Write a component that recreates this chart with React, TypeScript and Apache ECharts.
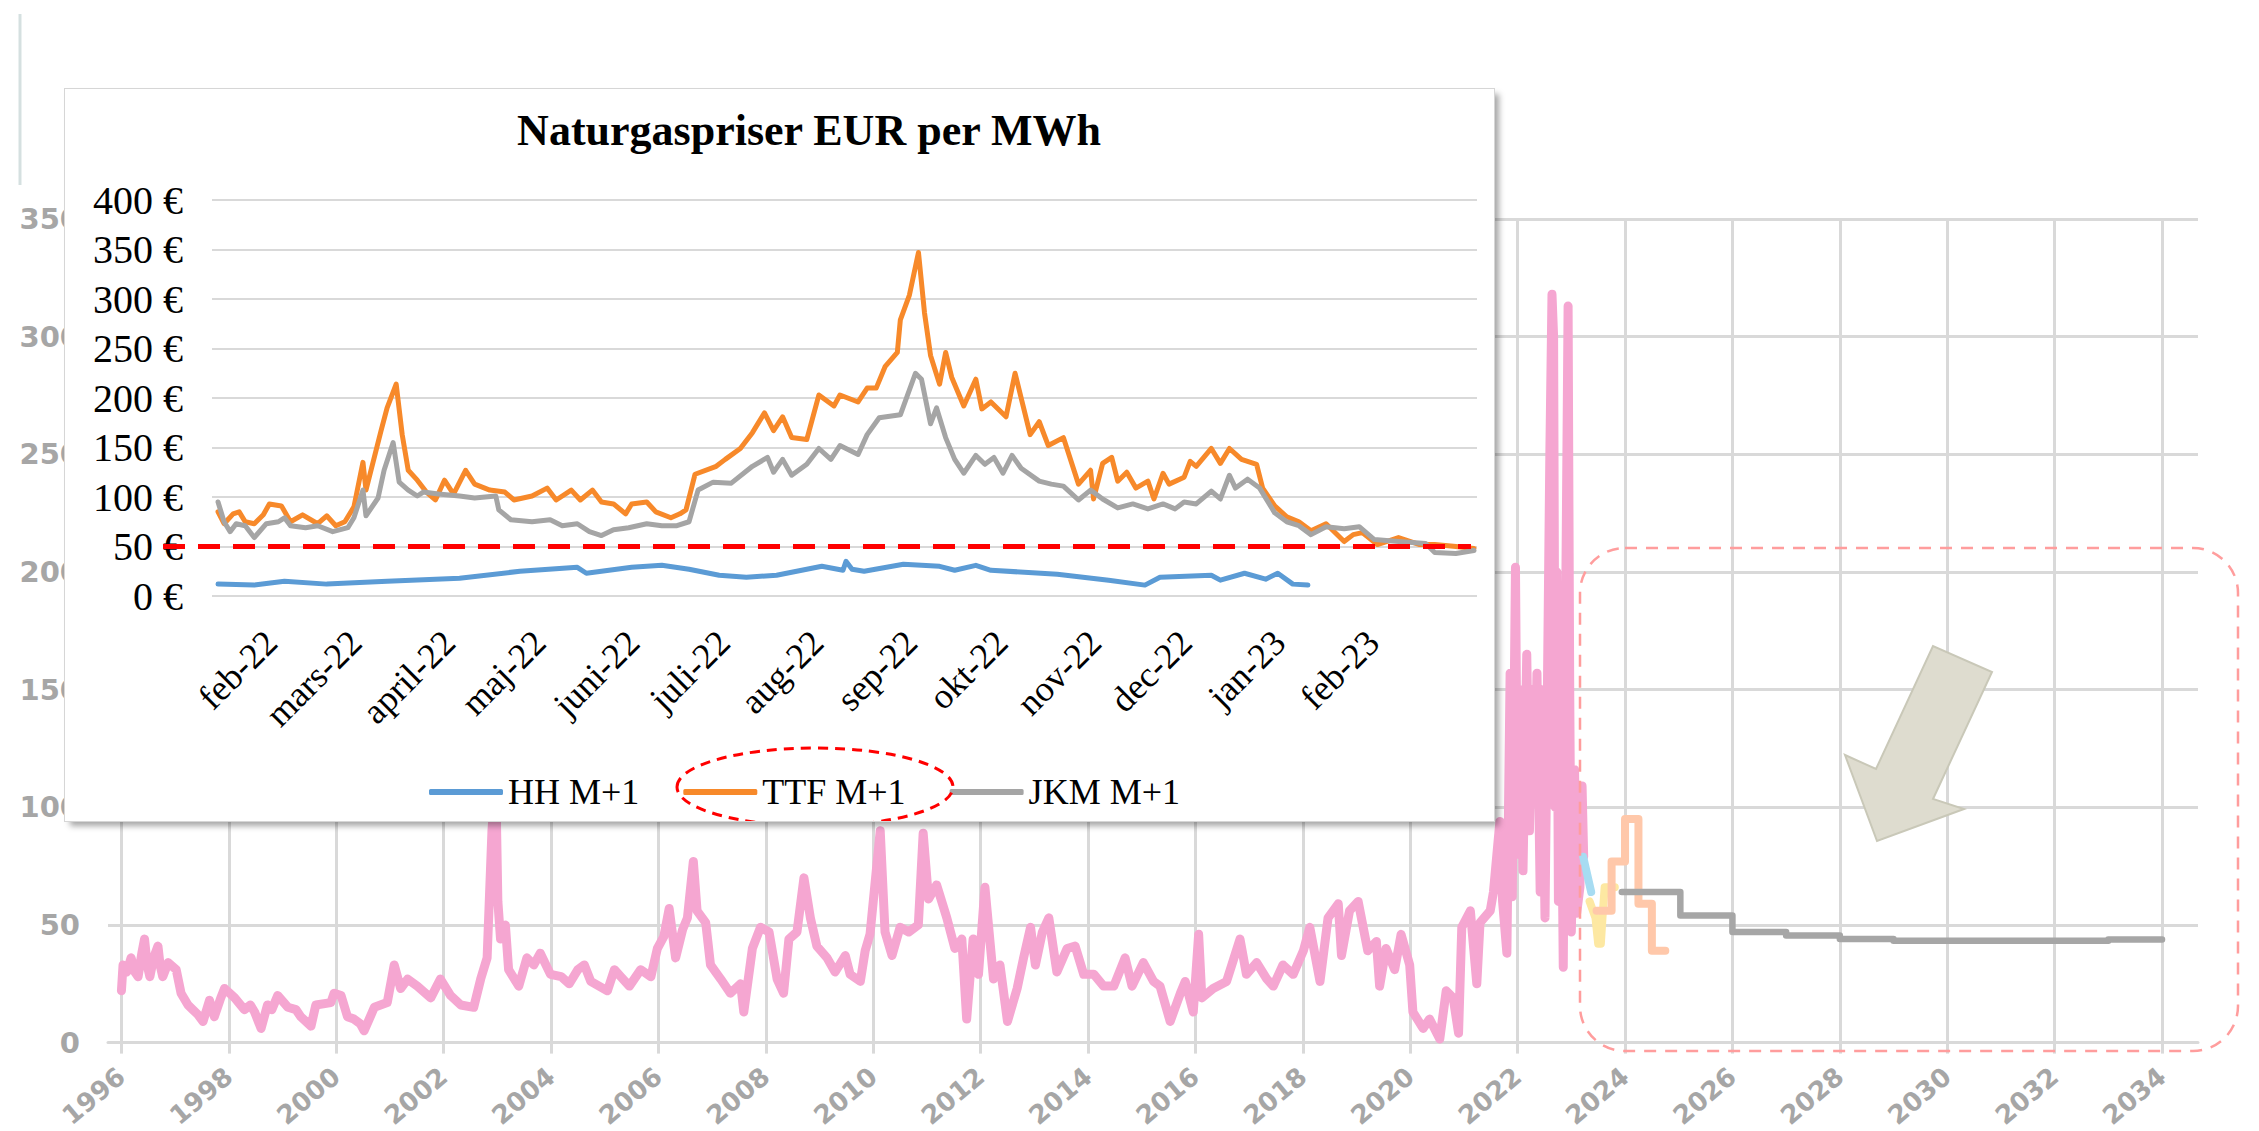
import React, { useEffect, useRef } from "react";
import * as echarts from "echarts";

// ---------- Background chart data (year, EUR/MWh) ----------
const yearTicks = [1996, 1998, 2000, 2002, 2004, 2006, 2008, 2010, 2012, 2014, 2016, 2018, 2020, 2022, 2024, 2026, 2028, 2030, 2032, 2034];

const spotHistory: [number, number][] = [
  [1996.0, 22], [1996.03, 33], [1996.1, 30], [1996.18, 36], [1996.25, 30], [1996.31, 28], [1996.38, 38], [1996.43, 44], [1996.48, 33], [1996.53, 28],
  [1996.6, 36], [1996.68, 41], [1996.72, 33], [1996.77, 28], [1996.87, 34], [1997.02, 31], [1997.11, 21], [1997.24, 16], [1997.33, 14], [1997.42, 12],
  [1997.52, 9], [1997.64, 18], [1997.73, 11], [1997.85, 19], [1997.92, 23], [1998.11, 19], [1998.29, 14], [1998.4, 16], [1998.48, 13], [1998.6, 6],
  [1998.72, 16], [1998.8, 14], [1998.91, 20], [1999.1, 15], [1999.25, 14], [1999.34, 11], [1999.53, 7], [1999.62, 16], [1999.9, 17], [1999.96, 21],
  [2000.09, 20], [2000.21, 11], [2000.33, 10], [2000.45, 8], [2000.52, 5], [2000.71, 15], [2000.95, 17], [2001.08, 33], [2001.2, 23], [2001.33, 27],
  [2001.51, 24], [2001.76, 19], [2001.94, 27], [2002.13, 20], [2002.32, 16], [2002.56, 15], [2002.69, 27], [2002.81, 36], [2002.9, 90], [2002.97, 112],
  [2003.01, 60], [2003.06, 44], [2003.15, 50], [2003.21, 31], [2003.4, 24], [2003.55, 36], [2003.68, 33], [2003.8, 38], [2003.99, 29], [2004.19, 28],
  [2004.34, 25], [2004.5, 31], [2004.62, 33], [2004.74, 26], [2005.05, 22], [2005.18, 31], [2005.3, 28], [2005.46, 24], [2005.67, 31], [2005.86, 28],
  [2005.98, 40], [2006.1, 45], [2006.2, 57], [2006.32, 36], [2006.45, 48], [2006.54, 53], [2006.65, 77], [2006.72, 56], [2006.88, 51], [2006.97, 33],
  [2007.16, 27], [2007.34, 21], [2007.53, 25], [2007.59, 13], [2007.75, 40], [2007.9, 49], [2008.06, 47], [2008.21, 27], [2008.33, 21], [2008.43, 44],
  [2008.58, 47], [2008.71, 70], [2008.83, 53], [2008.95, 41], [2009.14, 36], [2009.29, 30], [2009.48, 37], [2009.57, 29], [2009.76, 26], [2009.85, 39],
  [2009.94, 46], [2010.13, 90], [2010.22, 47], [2010.35, 37], [2010.5, 49], [2010.66, 47], [2010.84, 50], [2010.93, 89], [2011.03, 61], [2011.18, 67],
  [2011.37, 53], [2011.52, 40], [2011.65, 44], [2011.74, 10], [2011.86, 44], [2011.96, 29], [2012.08, 66], [2012.24, 27], [2012.36, 33], [2012.5, 9],
  [2012.68, 23], [2012.8, 36], [2012.93, 49], [2013.02, 33], [2013.15, 47], [2013.27, 53], [2013.42, 30], [2013.61, 40], [2013.76, 41], [2013.92, 29],
  [2014.11, 29], [2014.29, 24], [2014.48, 24], [2014.69, 36], [2014.82, 24], [2015.03, 34], [2015.22, 26], [2015.34, 24], [2015.53, 9], [2015.72, 21],
  [2015.81, 26], [2015.96, 13], [2016.06, 46], [2016.12, 19], [2016.33, 23], [2016.58, 26], [2016.83, 44], [2016.95, 29], [2017.14, 34], [2017.33, 27],
  [2017.45, 24], [2017.63, 33], [2017.82, 29], [2018.01, 39], [2018.13, 49], [2018.32, 26], [2018.47, 53], [2018.66, 59], [2018.72, 37], [2018.87, 56],
  [2019.03, 60], [2019.21, 39], [2019.37, 43], [2019.43, 24], [2019.55, 40], [2019.71, 31], [2019.83, 46], [2019.99, 33], [2020.05, 13], [2020.24, 6],
  [2020.36, 10], [2020.55, 1.5], [2020.67, 22], [2020.8, 19], [2020.9, 4], [2020.96, 49], [2021.12, 56], [2021.24, 25], [2021.3, 51], [2021.49, 56],
  [2021.55, 64], [2021.67, 94], [2021.72, 60], [2021.8, 38], [2021.86, 157], [2021.9, 62], [2021.96, 202], [2022.0, 80], [2022.05, 150], [2022.1, 73],
  [2022.17, 165], [2022.22, 90], [2022.27, 150], [2022.32, 103], [2022.36, 157], [2022.42, 64], [2022.45, 150], [2022.51, 53], [2022.55, 140], [2022.6, 250],
  [2022.64, 318], [2022.67, 300], [2022.7, 100], [2022.73, 200], [2022.76, 60], [2022.79, 180], [2022.85, 32], [2022.9, 200], [2022.94, 313], [2022.97, 150],
  [2023.0, 47], [2023.06, 116], [2023.1, 55], [2023.16, 66], [2023.2, 109], [2023.23, 79],
];

const blueForward: [number, number][] = [[2023.22, 79], [2023.37, 64]];
const yellowForward: [number, number][] = [[2023.34, 60], [2023.45, 53], [2023.5, 42], [2023.55, 42], [2023.58, 53], [2023.62, 66], [2023.81, 66]];
const peachForward: [number, number][] = [[2023.47, 56], [2023.75, 77], [2024.0, 95], [2024.25, 59], [2024.5, 39], [2024.75, 39]];
const grayForward: [number, number][] = [[2023.94, 64], [2025.03, 54], [2026.0, 47], [2027.0, 45.5], [2028.0, 44], [2029.0, 43.3], [2033.0, 43.8], [2034.0, 43.8]];

// ---------- Inset chart data (day counted from 1 Jan 2022, EUR/MWh) ----------
const insetMonthDays = [31, 59, 90, 120, 151, 181, 212, 243, 273, 304, 334, 365, 396];
const insetMonthLabels = ["feb-22", "mars-22", "april-22", "maj-22", "juni-22", "juli-22", "aug-22", "sep-22", "okt-22", "nov-22", "dec-22", "jan-23", "feb-23"];

const hhM1: [number, number][] = [
  [6, 12], [18, 11], [28, 15], [42, 12], [62, 15], [86, 18], [106, 25], [125, 29], [128, 23], [143, 29], [153, 31], [162, 27], [172, 21], [181, 19],
  [191, 21], [206, 30], [213, 26], [214, 35], [216, 27], [220, 25], [233, 32], [245, 30], [250, 26], [257, 31], [262, 26], [284, 22], [301, 16],
  [313, 11], [318, 19], [335, 21], [338, 16], [346, 23], [353, 17], [357, 23], [362, 12], [367, 11],
];

const ttfM1: [number, number][] = [
  [6, 85], [8, 73], [11, 83], [13, 85], [15, 75], [18, 73], [21, 82], [23, 93], [27, 91], [30, 75], [34, 82], [39, 73], [42, 81], [45, 71], [48, 75],
  [51, 90], [54, 135], [55, 107], [60, 167], [62, 190], [65, 214], [67, 163], [69, 127], [72, 117], [75, 105], [78, 97], [81, 117], [84, 103], [88, 127],
  [91, 113], [96, 107], [101, 105], [104, 97], [110, 101], [115, 109], [118, 97], [123, 107], [126, 97], [130, 107], [133, 95], [137, 93], [141, 83],
  [143, 93], [148, 95], [151, 85], [156, 79], [159, 83], [161, 87], [164, 123], [171, 131], [174, 138], [179, 149], [183, 165], [187, 185], [190, 167],
  [193, 181], [196, 160], [201, 158], [205, 203], [210, 192], [212, 203], [218, 196], [221, 210], [224, 210], [227, 232], [231, 246], [232, 279],
  [235, 304], [238, 347], [240, 286], [242, 243], [245, 214], [247, 246], [249, 221], [253, 192], [257, 219], [259, 189], [262, 196], [267, 181],
  [270, 225], [275, 163], [278, 176], [281, 152], [286, 160], [291, 113], [295, 127], [296, 98], [299, 134], [302, 140], [304, 116], [307, 125],
  [310, 109], [314, 116], [316, 98], [319, 124], [321, 113], [326, 120], [328, 136], [330, 131], [335, 149], [338, 134], [341, 149], [345, 138],
  [350, 133], [352, 109], [356, 91], [360, 80], [364, 75], [368, 66], [373, 73], [379, 55], [382, 62], [385, 64], [390, 52], [397, 59], [404, 52],
  [409, 52], [416, 50], [422, 48],
];

const jkmM1: [number, number][] = [
  [6, 95], [8, 75], [10, 65], [12, 73], [15, 71], [18, 59], [22, 73], [26, 75], [28, 79], [30, 71], [35, 69], [39, 71], [44, 65], [49, 69], [51, 79],
  [54, 107], [55, 81], [59, 99], [61, 127], [64, 155], [66, 115], [69, 107], [72, 101], [74, 105], [79, 103], [86, 101], [91, 99], [98, 101], [99, 87],
  [103, 77], [110, 75], [116, 77], [120, 71], [125, 73], [129, 65], [133, 61], [137, 67], [142, 69], [148, 73], [153, 71], [158, 71], [162, 75],
  [165, 107], [170, 115], [176, 114], [183, 131], [188, 140], [190, 125], [193, 138], [196, 122], [201, 133], [205, 149], [209, 138], [212, 152],
  [218, 143], [221, 163], [225, 180], [232, 183], [237, 225], [239, 219], [242, 174], [244, 190], [247, 160], [250, 138], [253, 124], [257, 142],
  [260, 133], [263, 140], [266, 124], [269, 142], [272, 129], [278, 116], [282, 113], [286, 111], [291, 97], [295, 107], [299, 98], [304, 89],
  [309, 93], [314, 88], [319, 93], [323, 88], [326, 95], [330, 93], [335, 106], [338, 98], [341, 122], [343, 109], [347, 118], [351, 109], [356, 84],
  [360, 75], [364, 71], [368, 62], [373, 70], [379, 68], [384, 70], [389, 57], [397, 55], [406, 53], [409, 44], [416, 43], [422, 46],
];

const GRID_GRAY = "#d9d9d9";
const LABEL_GRAY = "#a6a6a6";
const SERIF = "'Liberation Serif', 'Times New Roman', serif";

export default function App() {
  const bgRef = useRef<HTMLDivElement>(null);
  const insetRef = useRef<HTMLDivElement>(null);

  useEffect(() => {
    const bg = echarts.init(bgRef.current!, null, { renderer: "svg" });
    const inset = echarts.init(insetRef.current!, null, { renderer: "svg" });

    const lineSeries = (name: string, data: [number, number][], color: string, width: number, z: number, step?: string) => ({
      name,
      type: "line",
      data,
      showSymbol: false,
      symbol: "none",
      step: step || false,
      z,
      itemStyle: { color },
      lineStyle: { color, width, cap: "round", join: "round" },
      emphasis: { disabled: true },
    });

    bg.setOption({
      animation: false,
      grid: { left: 108, right: 61, top: 219, bottom: 81, containLabel: false },
      xAxis: {
        type: "value",
        min: 1995.75,
        max: 2034.67,
        axisLine: { show: true, lineStyle: { color: GRID_GRAY, width: 3 } },
        axisTick: { show: true, length: 11, customValues: yearTicks, lineStyle: { color: GRID_GRAY, width: 3 } },
        splitLine: { show: true, lineStyle: { color: GRID_GRAY, width: 3 } },
        axisLabel: {
          customValues: yearTicks,
          rotate: 40,
          margin: 30,
          color: LABEL_GRAY,
          fontFamily: "'DejaVu Sans', sans-serif",
          fontWeight: "bold",
          fontSize: 26,
          formatter: (v: number) => String(Math.round(v)),
        },
      },
      yAxis: {
        type: "value",
        min: 0,
        max: 350,
        interval: 50,
        axisLine: { show: false },
        axisTick: { show: false },
        splitLine: { show: true, lineStyle: { color: GRID_GRAY, width: 3 } },
        axisLabel: {
          margin: 28,
          color: LABEL_GRAY,
          fontFamily: "'DejaVu Sans', sans-serif",
          fontWeight: "bold",
          fontSize: 29,
        },
      },
      series: [
        lineSeries("Spot", spotHistory, "#f5a6d1", 9, 3),
        lineSeries("Forward 1", blueForward, "#a7dcf2", 8, 4),
        lineSeries("Forward 2", yellowForward, "#fde8a2", 8, 4),
        lineSeries("Forward 3", peachForward, "#ffc8aa", 8, 4, "end"),
        lineSeries("Forward 4", grayForward, "#a6a6a6", 6.5, 5, "end"),
      ],
      graphic: [
        {
          type: "line",
          shape: { x1: 20, y1: 14, x2: 20, y2: 185 },
          style: { stroke: "#d5e0e0", lineWidth: 3 },
          z: 20,
        },
        {
          type: "rect",
          shape: { x: 1580, y: 548, width: 658, height: 503, r: 45 },
          style: { fill: "none", stroke: "#ff9d9d", lineWidth: 2.5, lineDash: [12, 9] },
          z: 20,
        },
        {
          type: "polygon",
          shape: {
            points: [[1877, 841], [1845, 755], [1876, 769], [1933, 646], [1992, 672], [1933, 799], [1964, 809]],
          },
          style: { fill: "#dedccf", stroke: "#c9c8b8", lineWidth: 2 },
          z: 20,
        },
      ],
    });

    inset.setOption({
      animation: false,
      title: {
        text: "Naturgaspriser EUR per MWh",
        left: 739,
        textAlign: "center",
        top: 14,
        textStyle: { fontFamily: SERIF, fontWeight: "bold", fontSize: 44, color: "#000" },
      },
      legend: {
        left: 359,
        top: 680,
        itemWidth: 74,
        itemHeight: 6,
        itemGap: 44,
        icon: "roundRect",
        textStyle: { fontFamily: SERIF, fontSize: 36, color: "#000" },
        data: ["HH M+1", "TTF M+1", "JKM M+1"],
      },
      grid: { left: 147, right: 17, top: 111, bottom: 225, containLabel: false },
      xAxis: {
        type: "value",
        min: 4,
        max: 423,
        axisLine: { show: false },
        axisTick: { show: false, customValues: insetMonthDays },
        splitLine: { show: false },
        axisLabel: {
          customValues: insetMonthDays,
          rotate: 45,
          margin: 18,
          padding: [0, 32, 0, 0],
          color: "#000",
          fontFamily: SERIF,
          fontSize: 36,
          formatter: (v: number) => {
            const i = insetMonthDays.indexOf(Math.round(v));
            return i >= 0 ? insetMonthLabels[i] : "";
          },
        },
      },
      yAxis: {
        type: "value",
        min: 0,
        max: 400,
        interval: 50,
        axisLine: { show: false },
        axisTick: { show: false },
        splitLine: { show: true, lineStyle: { color: GRID_GRAY, width: 2 } },
        axisLabel: {
          margin: 29,
          color: "#000",
          fontFamily: SERIF,
          fontSize: 40,
          formatter: "{value} €",
        },
      },
      series: [
        lineSeries("HH M+1", hhM1, "#5b9bd5", 5, 3),
        lineSeries("TTF M+1", ttfM1, "#f7892a", 5, 3),
        {
          ...lineSeries("JKM M+1", jkmM1, "#a5a5a5", 5, 3),
          markLine: {
            silent: true,
            symbol: ["none", "none"],
            label: { show: false },
            lineStyle: { color: "#ff0000", width: 5, type: [22, 13] },
            data: [[{ x: 98, yAxis: 50 }, { xAxis: 421, yAxis: 50 }]],
          },
        },
      ],
      graphic: [
        {
          type: "ellipse",
          shape: { cx: 750, cy: 698, rx: 138, ry: 39 },
          style: { fill: "none", stroke: "#ff0000", lineWidth: 3, lineDash: [10, 7] },
          z: 20,
        },
      ],
    });

    return () => {
      bg.dispose();
      inset.dispose();
    };
  }, []);

  return (
    <div style={{ position: "fixed", left: 0, top: 0, width: 2259, height: 1131, background: "#fff", overflow: "hidden" }}>
      <div ref={bgRef} style={{ position: "absolute", left: 0, top: 0, width: 2259, height: 1131 }} />
      <div
        style={{
          position: "absolute",
          left: 65,
          top: 89,
          width: 1429,
          height: 732,
          background: "#fff",
          boxShadow: "0 0 0 1px #d6d6d6, 5px 5px 6px rgba(0,0,0,0.35)",
        }}
      >
        <div ref={insetRef} style={{ width: 1429, height: 732 }} />
      </div>
    </div>
  );
}
